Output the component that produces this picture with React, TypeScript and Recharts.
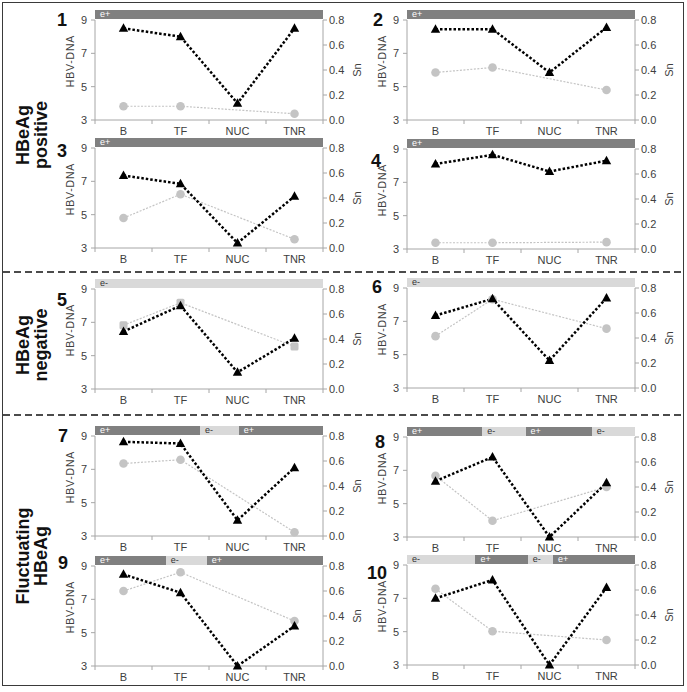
import React from "react";
import { ComposedChart, Line, XAxis, YAxis } from "recharts";

if (typeof document !== "undefined") document.body.style.margin = "0";

const stages = ["B", "TF", "NUC", "TNR"];
const dnaTicks = [3, 5, 7, 9];
const snTicks = [0, 0.2, 0.4, 0.6, 0.8];

// black triangles = HBV-DNA (left axis), grey circles = Sn (right axis)
const dna1 = [8.5, 8.0, 4.0, 8.5];
const sn1 = [0.11, 0.11, null, 0.05];
const dna2 = [8.45, 8.45, 5.85, 8.55];
const sn2 = [0.38, 0.42, null, 0.24];
const dna3 = [7.35, 6.85, 3.3, 6.1];
const sn3 = [0.24, 0.43, null, 0.07];
const dna4 = [8.1, 8.65, 7.65, 8.3];
const sn4 = [0.05, 0.05, null, 0.055];
const dna5 = [6.45, 8.0, 4.0, 6.05];
const sn5 = [0.51, 0.69, null, 0.34];
const dna6 = [7.35, 8.35, 4.65, 8.4];
const sn6 = [0.415, 0.71, null, 0.475];
const dna7 = [8.65, 8.55, 3.95, 7.1];
const sn7 = [0.58, 0.61, null, 0.03];
const dna8 = [6.35, 7.8, 3.0, 6.25];
const sn8 = [0.49, 0.13, null, 0.4];
const dna9 = [8.5, 7.4, 3.0, 5.4];
const sn9 = [0.6, 0.75, null, 0.36];
const dna10 = [7.0, 8.1, 3.0, 7.65];
const sn10 = [0.61, 0.27, null, 0.2];

// HBeAg status strip above each panel: [label, from, to] as share of the plot width
type Seg = [string, number, number];
const band1: Seg[] = [["e+", 0, 1]];
const band2: Seg[] = [["e+", 0, 1]];
const band3: Seg[] = [["e+", 0, 1]];
const band4: Seg[] = [["e+", 0, 1]];
const band5: Seg[] = [["e-", 0, 1]];
const band6: Seg[] = [["e-", 0, 1]];
const band7: Seg[] = [["e+", 0, 0.46], ["e-", 0.46, 0.63], ["e+", 0.63, 1]];
const band8: Seg[] = [["e+", 0, 0.33], ["e-", 0.33, 0.52], ["e+", 0.52, 0.81], ["e-", 0.81, 1]];
const band9: Seg[] = [["e+", 0, 0.31], ["e-", 0.31, 0.49], ["e+", 0.49, 1]];
const band10: Seg[] = [["e-", 0, 0.3], ["e+", 0.3, 0.53], ["e-", 0.53, 0.64], ["e+", 0.64, 1]];

const AXIS = "#a6a6a6";
const TEXT = "#404040";
const DARK = "#808080";
const LIGHT = "#d9d9d9";
const GREY = "#c4c4c4";

const PLOT_W = 228;
const CHART_W = 320;
const CHART_H = 130;
const M_TOP = 8;

const StageTick = (props: any) => {
  const { x, y, payload, index } = props;
  const half = payload && payload.offset ? payload.offset : 0;
  const axisY = y - 7;
  return (
    <g>
      <line x1={x - half} x2={x - half} y1={axisY} y2={axisY + 4} stroke={AXIS} />
      {index === stages.length - 1 && (
        <line x1={x + half} x2={x + half} y1={axisY} y2={axisY + 4} stroke={AXIS} />
      )}
      <text x={x} y={y} dy="0.71em" textAnchor="middle" fontSize={11} fill={TEXT}>
        {payload.value}
      </text>
    </g>
  );
};

const Triangle = (props: any) => {
  const { cx, cy } = props;
  if (cx == null || cy == null) return <g />;
  return <polygon points={`${cx},${cy - 5} ${cx + 4.7},${cy + 3.5} ${cx - 4.7},${cy + 3.5}`} fill="#000" />;
};

const GreySquare = (props: any) => {
  const { cx, cy } = props;
  if (cx == null || cy == null) return <g />;
  return <rect x={cx - 4} y={cy - 4} width={8} height={8} rx={1.5} fill={GREY} />;
};

function Panel({ dna, sn, bands, left, plotTop, square }: any) {
  const data = stages.map((s, i) => ({ stage: s, dna: dna[i], sn: sn[i] }));
  const plotLeft = left + 40;
  return (
    <>
      {bands.map(([lab, a, b]: Seg, i: number) => (
        <div
          key={i}
          style={{
            position: "absolute",
            left: plotLeft + a * PLOT_W,
            top: plotTop - 10,
            width: (b - a) * PLOT_W,
            height: 9,
            background: lab === "e+" ? DARK : LIGHT,
            color: lab === "e+" ? "#fff" : "#333",
            fontSize: 9,
            lineHeight: "9px",
            paddingLeft: 5,
            boxSizing: "border-box",
          }}
        >
          {lab}
        </div>
      ))}
      <div style={{ position: "absolute", left, top: plotTop - M_TOP }}>
        <ComposedChart width={CHART_W} height={CHART_H} data={data} margin={{ top: M_TOP, right: 12, bottom: 0, left: 0 }}>
          <XAxis
            dataKey="stage"
            scale="band"
            height={22}
            interval={0}
            stroke={AXIS}
            tickLine={false}
            tickSize={4}
            tickMargin={3}
            tick={<StageTick />}
          />
          <YAxis
            yAxisId="dna"
            domain={[3, 9]}
            ticks={dnaTicks}
            interval={0}
            width={40}
            stroke={AXIS}
            tickSize={4}
            tickMargin={4}
            tick={{ fontSize: 11, fill: TEXT }}
            label={{
              value: "HBV-DNA",
              angle: -90,
              position: "insideLeft",
              offset: 15,
              dy: -9,
              fontSize: 10.5,
              fill: TEXT,
              style: { textAnchor: "middle", fontSize: 10.5, letterSpacing: 0.8 },
            }}
          />
          <YAxis
            yAxisId="sn"
            orientation="right"
            domain={[0, 0.8]}
            ticks={snTicks}
            interval={0}
            width={40}
            stroke={AXIS}
            tickSize={4}
            tickMargin={2}
            tickFormatter={(v: number) => v.toFixed(1)}
            tick={{ fontSize: 11, fill: TEXT }}
            label={{
              value: "Sn",
              angle: -90,
              position: "insideRight",
              offset: 6,
              fontSize: 11,
              fill: TEXT,
              style: { textAnchor: "middle", fontSize: 11 },
            }}
          />
          <Line
            yAxisId="sn"
            dataKey="sn"
            connectNulls
            stroke={GREY}
            strokeWidth={1.2}
            strokeDasharray="2 1.5"
            dot={square ? <GreySquare /> : { r: 4.3, fill: GREY, stroke: GREY, strokeWidth: 0 }}
            isAnimationActive={false}
          />
          <Line
            yAxisId="dna"
            dataKey="dna"
            stroke="#000"
            strokeWidth={2.5}
            strokeDasharray="2.5 2"
            dot={<Triangle />}
            isAnimationActive={false}
          />
        </ComposedChart>
      </div>
    </>
  );
}

const numStyle: React.CSSProperties = {
  position: "absolute",
  transform: "translate(-50%, -50%)",
  fontWeight: "bold",
  fontSize: 18,
  color: "#111",
};

const groupStyle = (cy: number): React.CSSProperties => ({
  position: "absolute",
  left: 32,
  top: cy,
  transform: "translate(-50%, -50%) rotate(-90deg)",
  fontWeight: "bold",
  fontSize: 18,
  lineHeight: "18px",
  textAlign: "center",
  whiteSpace: "nowrap",
  color: "#111",
});

export default function App() {
  const L = 55;
  const R = 367;
  return (
    <div
      style={{
        position: "relative",
        width: 687,
        height: 692,
        background: "#fff",
        fontFamily: "'Liberation Sans', Arial, sans-serif",
        overflow: "hidden",
      }}
    >
      <div
        style={{
          position: "absolute",
          left: 2,
          top: 2,
          width: 682,
          height: 684,
          border: "1.5px solid #3a3a3a",
          boxSizing: "border-box",
        }}
      />
      <svg width={687} height={692} style={{ position: "absolute", left: 0, top: 0 }}>
        <line x1={3} x2={683} y1={272} y2={272} stroke="#111" strokeWidth={1.5} strokeDasharray="7 4" />
        <line x1={3} x2={683} y1={415} y2={415} stroke="#111" strokeWidth={1.5} strokeDasharray="7 4" />
      </svg>

      <div style={groupStyle(135)}>HBeAg<br />positive</div>
      <div style={groupStyle(345)}>HBeAg<br />negative</div>
      <div style={groupStyle(556)}>Fluctuating<br />HBeAg</div>

      <Panel dna={dna1} sn={sn1} bands={band1} left={L} plotTop={20} />
      <Panel dna={dna2} sn={sn2} bands={band2} left={R} plotTop={20} />
      <Panel dna={dna3} sn={sn3} bands={band3} left={L} plotTop={148} />
      <Panel dna={dna4} sn={sn4} bands={band4} left={R} plotTop={149} />
      <Panel dna={dna5} sn={sn5} bands={band5} left={L} plotTop={289} square />
      <Panel dna={dna6} sn={sn6} bands={band6} left={R} plotTop={288} />
      <Panel dna={dna7} sn={sn7} bands={band7} left={L} plotTop={436} />
      <Panel dna={dna8} sn={sn8} bands={band8} left={R} plotTop={437} />
      <Panel dna={dna9} sn={sn9} bands={band9} left={L} plotTop={566} />
      <Panel dna={dna10} sn={sn10} bands={band10} left={R} plotTop={565} />

      <div style={{ ...numStyle, left: 62, top: 20 }}>1</div>
      <div style={{ ...numStyle, left: 378, top: 20 }}>2</div>
      <div style={{ ...numStyle, left: 62, top: 151 }}>3</div>
      <div style={{ ...numStyle, left: 376, top: 161 }}>4</div>
      <div style={{ ...numStyle, left: 62, top: 300 }}>5</div>
      <div style={{ ...numStyle, left: 377, top: 287 }}>6</div>
      <div style={{ ...numStyle, left: 63, top: 436 }}>7</div>
      <div style={{ ...numStyle, left: 380, top: 442 }}>8</div>
      <div style={{ ...numStyle, left: 63, top: 563 }}>9</div>
      <div style={{ ...numStyle, left: 377, top: 573 }}>10</div>
    </div>
  );
}
